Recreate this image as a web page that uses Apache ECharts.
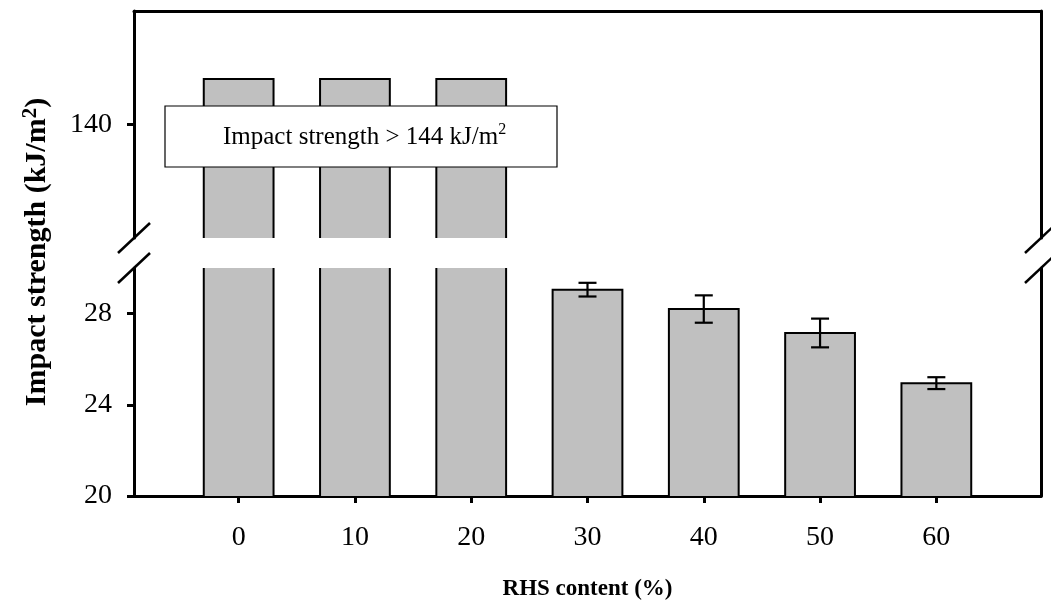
<!DOCTYPE html>
<html>
<head>
<meta charset="utf-8">
<script src="https://cdn.jsdelivr.net/npm/echarts@6/dist/echarts.min.js"></script>
<style>
  html, body { margin: 0; padding: 0; background: #ffffff; }
  #chart { width: 1051px; height: 604px; }
</style>
</head>
<body>
<div id="chart"></div>
<script>
// RHS content (%) and the measured notched impact strength (kJ/m2)
const rhsContent = [0, 10, 20, 30, 40, 50, 60];
const impactStrength = [144, 144, 144, 29.05, 28.2, 27.15, 24.95];
const impactError = [null, null, null, 0.3, 0.6, 0.63, 0.26];
// tick labels on the two parts of the broken value axis
const upperTicks = [140];
const lowerTicks = [20, 24, 28];
const noteText = 'Impact strength > 144 kJ/m';

// layout of the broken plot frame
const W = 1051;
const LEFT = 134, RIGHT = 1041, TOP = 11, BREAK_TOP = 238, BREAK_BOTTOM = 268, BOTTOM = 496;
const SERIF = '"Liberation Serif", "Times New Roman", serif';
const AXIS_LINE = { show: true, onZero: false, lineStyle: { color: '#000', width: 3 } };
const BAR_FILL = '#c0c0c0';

const chart = echarts.init(document.getElementById('chart'), null, { renderer: 'canvas' });

const barData = rhsContent.map((x, i) => [x, impactStrength[i]]);
const errData = rhsContent
  .map((x, i) => impactError[i] == null ? null : [x, impactStrength[i] - impactError[i], impactStrength[i] + impactError[i]])
  .filter(d => d !== null);

// Bars are drawn per grid part; an edge that runs off the part is left open
function renderBar(params, api) {
  const cs = params.coordSys;
  const x = api.value(0);
  const p = api.coord([x, api.value(1)]);
  const w = api.size([10, 0])[0] * 0.6;
  const bottom = cs.y + cs.height;
  const top = Math.max(p[1], cs.y);
  if (top >= bottom) return null;
  const l = p[0] - w / 2, r = p[0] + w / 2;
  const st = { stroke: '#000', lineWidth: 2, fill: null };
  const children = [
    { type: 'rect', shape: { x: l, y: top, width: w, height: bottom - top }, style: { fill: BAR_FILL } }
  ];
  if (p[1] < cs.y) {
    children.push({ type: 'line', shape: { x1: l, y1: top, x2: l, y2: bottom }, style: st });
    children.push({ type: 'line', shape: { x1: r, y1: top, x2: r, y2: bottom }, style: st });
  } else {
    children.push({ type: 'polyline', shape: { points: [[l, bottom], [l, top], [r, top], [r, bottom]] }, style: st });
  }
  return { type: 'group', children };
}

function renderError(params, api) {
  const x = api.value(0);
  const lo = api.coord([x, api.value(1)]);
  const hi = api.coord([x, api.value(2)]);
  const hw = 9;
  const st = { stroke: '#000', lineWidth: 2.2 };
  return {
    type: 'group',
    children: [
      { type: 'line', shape: { x1: hi[0], y1: hi[1], x2: lo[0], y2: lo[1] }, style: st },
      { type: 'line', shape: { x1: hi[0] - hw, y1: hi[1], x2: hi[0] + hw, y2: hi[1] }, style: st },
      { type: 'line', shape: { x1: lo[0] - hw, y1: lo[1], x2: lo[0] + hw, y2: lo[1] }, style: st }
    ]
  };
}

function slash(cx, cy) {
  return {
    type: 'line', z: 120,
    shape: { x1: cx - 16, y1: cy + 15, x2: cx + 16, y2: cy - 15 },
    style: { stroke: '#000', lineWidth: 2.5 }
  };
}

const tickLabel = { show: true, fontSize: 28, fontFamily: SERIF, color: '#000' };

const option = {
  animation: false,
  backgroundColor: '#ffffff',
  grid: [
    { left: LEFT, right: W - RIGHT, top: TOP, height: BREAK_TOP - TOP },
    { left: LEFT, right: W - RIGHT, top: BREAK_BOTTOM, height: BOTTOM - BREAK_BOTTOM }
  ],
  xAxis: [
    {
      gridIndex: 0, type: 'value', min: -9, max: 69, position: 'top',
      axisLine: AXIS_LINE, axisTick: { show: false }, axisLabel: { show: false },
      splitLine: { show: false }
    },
    {
      gridIndex: 1, type: 'value', min: -9, max: 69, position: 'bottom',
      axisLine: AXIS_LINE,
      axisTick: { show: true, customValues: rhsContent, length: 7, lineStyle: { color: '#000', width: 3 } },
      axisLabel: Object.assign({ customValues: rhsContent, margin: 28 }, tickLabel),
      splitLine: { show: false },
      name: 'RHS content (%)', nameLocation: 'middle', nameGap: 82,
      nameTextStyle: { fontSize: 23, fontWeight: 'bold', fontFamily: SERIF, color: '#000' }
    }
  ],
  yAxis: [
    {
      gridIndex: 0, type: 'value', min: 130, max: 150,
      axisLine: AXIS_LINE,
      axisTick: { show: true, customValues: upperTicks, length: 7, lineStyle: { color: '#000', width: 3 } },
      axisLabel: Object.assign({ customValues: upperTicks, margin: 22 }, tickLabel),
      splitLine: { show: false }
    },
    {
      gridIndex: 0, type: 'value', min: 130, max: 150, position: 'right',
      axisLine: AXIS_LINE, axisTick: { show: false }, axisLabel: { show: false }, splitLine: { show: false }
    },
    {
      gridIndex: 1, type: 'value', min: 20, max: 30,
      axisLine: AXIS_LINE,
      axisTick: { show: true, customValues: lowerTicks, length: 7, lineStyle: { color: '#000', width: 3 } },
      axisLabel: Object.assign({ customValues: lowerTicks, margin: 22 }, tickLabel),
      splitLine: { show: false }
    },
    {
      gridIndex: 1, type: 'value', min: 20, max: 30, position: 'right',
      axisLine: AXIS_LINE, axisTick: { show: false }, axisLabel: { show: false }, splitLine: { show: false }
    }
  ],
  series: [
    { type: 'custom', xAxisIndex: 0, yAxisIndex: 0, data: barData, renderItem: renderBar, silent: true, z: 2 },
    { type: 'custom', xAxisIndex: 1, yAxisIndex: 2, data: barData, renderItem: renderBar, silent: true, z: 2 },
    { type: 'custom', xAxisIndex: 1, yAxisIndex: 2, data: errData, renderItem: renderError, silent: true, z: 5 }
  ],
  graphic: [
    // axis break marks on both sides of the frame
    slash(LEFT, BREAK_TOP), slash(LEFT, BREAK_BOTTOM),
    slash(RIGHT, BREAK_TOP), slash(RIGHT, BREAK_BOTTOM),
    // note box over the off-scale bars
    {
      type: 'rect', z: 110,
      shape: { x: 165, y: 106, width: 392, height: 61 },
      style: { fill: '#ffffff', stroke: '#000', lineWidth: 1.2 }
    },
    {
      type: 'text', z: 111, x: 223, y: 137,
      style: {
        text: '{a|' + noteText + '}{s|2}',
        verticalAlign: 'middle', align: 'left',
        rich: {
          a: { fontSize: 25, fontFamily: SERIF, fill: '#000', lineHeight: 30 },
          s: { fontSize: 16, fontFamily: SERIF, fill: '#000', lineHeight: 30, verticalAlign: 'top', padding: [0, 0, 12, 0] }
        }
      }
    },
    // value axis title
    {
      type: 'text', z: 111, x: 37, y: 252, rotation: Math.PI / 2,
      style: {
        text: '{b|Impact strength (kJ/m}{s|2}{b|)}',
        align: 'center', verticalAlign: 'middle',
        rich: {
          b: { fontSize: 30, fontWeight: 'bold', fontFamily: SERIF, fill: '#000', lineHeight: 34 },
          s: { fontSize: 21, fontWeight: 'bold', fontFamily: SERIF, fill: '#000', lineHeight: 34, verticalAlign: 'top', padding: [0, 0, 12, 0] }
        }
      }
    }
  ]
};

chart.setOption(option);
</script>
</body>
</html>
